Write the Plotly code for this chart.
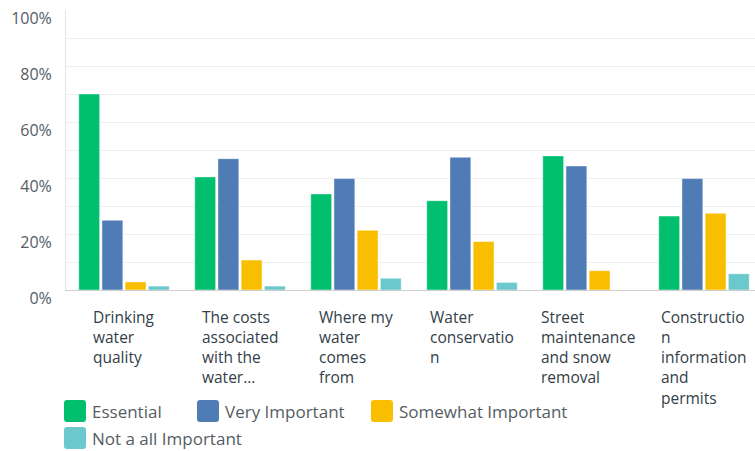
import plotly.graph_objects as go

categories = [
    "Drinking<br>water<br>quality",
    "The costs<br>associated<br>with the<br>water...",
    "Where my<br>water<br>comes<br>from",
    "Water<br>conservatio<br>n",
    "Street<br>maintenance<br>and snow<br>removal",
    "Constructio<br>n<br>information<br>and<br>permits",
]
series_names = ["Essential", "Very Important", "Somewhat Important", "Not a all Important"]
essential = [70.0, 40.4, 34.3, 31.9, 47.9, 26.4]
very_important = [24.9, 46.9, 39.8, 47.4, 44.3, 39.8]
somewhat_important = [2.9, 10.7, 21.3, 17.3, 6.9, 27.4]
not_important = [1.4, 1.4, 4.2, 2.7, 0.0, 5.8]
colors = ["#00BF6F", "#507CB6", "#F9BE00", "#6BC8CD"]
y_ticks = [0, 20, 40, 60, 80, 100]
y_tick_labels = ["0%", "20%", "40%", "60%", "80%", "100%"]

FONT = "Open Sans"
TEXT = "#333e48"
SOFT = "#555d64"

fig = go.Figure()
xs = list(range(len(categories)))
for name, vals, col in zip(series_names, [essential, very_important, somewhat_important, not_important], colors):
    fig.add_trace(go.Bar(
        x=xs, y=vals, name=name,
        marker=dict(color=col, line=dict(color="rgba(255,255,255,0.45)", width=1)),
        showlegend=False,
    ))

# category labels: centered block, left-aligned text
for i, lab in enumerate(categories):
    fig.add_annotation(
        x=i, xref="x", y=0, yref="paper", yshift=-14,
        text=lab, showarrow=False, xanchor="center", yanchor="top",
        align="left", font=dict(family=FONT, size=15.5, color=TEXT),
    )

# manual legend with rounded swatches
W, H = 689.0, 280.0
def px(x):
    return (x - 66) / W
def py(y):
    return (290 - y) / H

def rounded(x0, y0, x1, y1, r):
    # pixel coords (y down), convert to paper
    pts = [
        ("M", x0 + r, y0), ("L", x1 - r, y0), ("Q", x1, y0, x1, y0 + r),
        ("L", x1, y1 - r), ("Q", x1, y1, x1 - r, y1), ("L", x0 + r, y1),
        ("Q", x0, y1, x0, y1 - r), ("L", x0, y0 + r), ("Q", x0, y0, x0 + r, y0),
    ]
    s = ""
    for p in pts:
        cmd = p[0]
        coords = p[1:]
        parts = []
        for k in range(0, len(coords), 2):
            parts.append(f"{px(coords[k]):.5f},{py(coords[k+1]):.5f}")
        s += cmd + " ".join(parts) + " "
    return s + "Z"

legend_pos = [(64, 411), (197, 411), (371, 411), (64, 438)]
for (lx, ly), name, col in zip(legend_pos, series_names, colors):
    fig.add_shape(
        type="path", xref="paper", yref="paper",
        path=rounded(lx, ly - 11, lx + 22, ly + 11, 3),
        fillcolor=col, line=dict(width=0), layer="above",
    )
    fig.add_annotation(
        x=px(lx + 26), y=py(ly), xref="paper", yref="paper",
        text=name, showarrow=False, xanchor="left", yanchor="middle",
        font=dict(family=FONT, size=17, color=SOFT),
    )

fig.update_layout(
    width=755, height=451,
    margin=dict(l=66, r=0, t=10, b=161),
    paper_bgcolor="white", plot_bgcolor="white",
    barmode="group", bargap=0.2, bargroupgap=0.1,
    font=dict(family=FONT, size=14, color=TEXT),
    xaxis=dict(
        range=[-0.5, -0.5 + W / 116.0], showticklabels=False,
        showgrid=False, zeroline=False, showline=True,
        linecolor="#cfcfcf", linewidth=1, fixedrange=True,
    ),
    yaxis=dict(
        range=[0, 100], tickvals=y_ticks, ticktext=y_tick_labels,
        showgrid=True, gridcolor="#efefef", gridwidth=1,
        minor=dict(dtick=10, showgrid=True, gridcolor="#efefef", gridwidth=1),
        zeroline=False, showline=True, linecolor="#e3e3e3", linewidth=1,
        ticklabelshift=8, ticklabelstandoff=10,
        tickfont=dict(family=FONT, size=16, color=SOFT),
    ),
)

fig.write_html("out.html")
